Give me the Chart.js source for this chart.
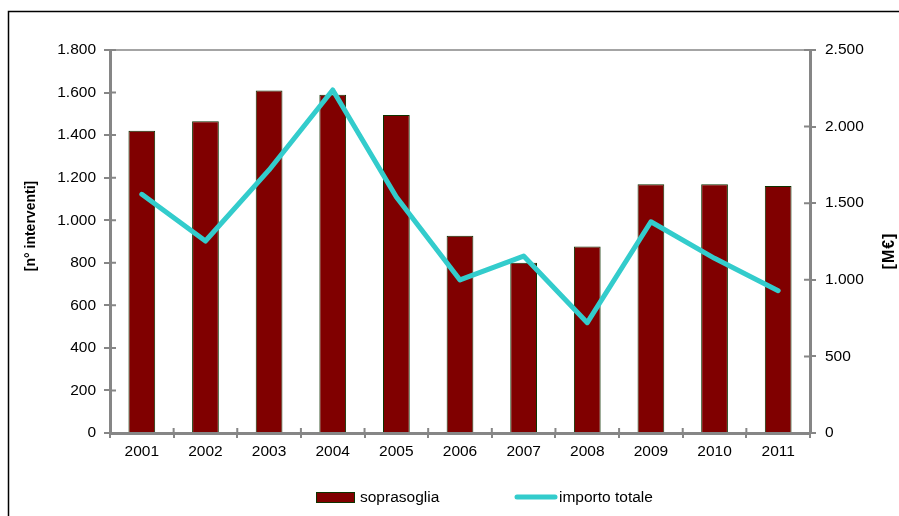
<!DOCTYPE html>
<html>
<head>
<meta charset="utf-8">
<script src="https://cdn.jsdelivr.net/npm/chart.js@4.4.0/dist/chart.umd.min.js"></script>
<style>
  html, body { margin: 0; padding: 0; background: #fff; overflow: hidden; }
  #myChart { display: block; }
</style>
</head>
<body>
<canvas id="myChart" width="899" height="516"></canvas>
<script>
// data
const years = ['2001','2002','2003','2004','2005','2006','2007','2008','2009','2010','2011']
const soprasoglia = [1420, 1465, 1610, 1590, 1495, 927, 800, 876, 1169, 1169, 1161]
const importoTotale = [1558, 1253, 1717, 2239, 1540, 999, 1155, 720, 1379, 1140, 929]
const leftTicks = [0, 200, 400, 600, 800, 1000, 1200, 1400, 1600, 1800]
const rightTicks = [0, 500, 1000, 1500, 2000, 2500]

const axisGray = '#868686'
const barRed = '#800000'
const barEdge = '#0d3300'
const lineCyan = '#33cccc'
const fontFam = '"Liberation Sans", Arial, sans-serif'

function fmt(v){
  return String(v).replace(/\B(?=(\d{3})+(?!\d))/g, '.')
}

// frame, top line, inner tick halves, axis titles, legend
const extras = {
  id: 'extras',
  beforeDraw(chart){
    const c = chart.ctx
    c.save()
    c.fillStyle = '#fff'
    c.fillRect(0, 0, chart.width, chart.height)
    c.strokeStyle = '#000'
    c.lineWidth = 1.5
    c.strokeRect(8.5, 11.5, 1000, 1000)
    c.restore()
  },
  afterDatasetsDraw(chart){
    const c = chart.ctx
    const a = chart.chartArea
    const s = chart.scales
    c.save()
    c.strokeStyle = axisGray
    c.lineWidth = 1.5
    c.beginPath()
    c.moveTo(a.left, a.top)
    c.lineTo(a.right, a.top)
    c.stroke()
    c.lineWidth = 2
    c.beginPath()
    leftTicks.forEach(v => {
      const y = s.y.getPixelForValue(v)
      c.moveTo(a.left, y); c.lineTo(a.left + 6, y)
    })
    rightTicks.forEach(v => {
      const y = s.y1.getPixelForValue(v)
      c.moveTo(a.right - 6, y); c.lineTo(a.right, y)
    })
    const step = (a.right - a.left) / years.length
    for (let i = 0; i <= years.length; i++) {
      const x = a.left + i * step
      c.moveTo(x, a.bottom - 5); c.lineTo(x, a.bottom)
    }
    c.stroke()

    // axis titles
    c.fillStyle = '#000'
    c.textAlign = 'center'
    c.textBaseline = 'middle'
    c.font = 'bold 14px ' + fontFam
    c.save()
    c.translate(31, 226)
    c.rotate(-Math.PI / 2)
    c.fillText('[n° interventi]', 0, 0)
    c.restore()
    c.save()
    c.translate(890, 251)
    c.rotate(-Math.PI / 2)
    c.font = 'bold 16px ' + fontFam
    c.letterSpacing = '1px'
    c.fillText('[M€]', 0, 0)
    c.restore()

    // legend
    c.fillStyle = barRed
    c.fillRect(316, 492, 39, 11)
    c.strokeStyle = barEdge
    c.lineWidth = 1
    c.strokeRect(316.5, 492.5, 38, 10)
    c.strokeStyle = lineCyan
    c.lineWidth = 5
    c.lineCap = 'round'
    c.beginPath()
    c.moveTo(517, 497); c.lineTo(555, 497)
    c.stroke()
    c.fillStyle = '#000'
    c.textAlign = 'left'
    c.font = '15.5px ' + fontFam
    c.fillText('soprasoglia', 360, 498)
    c.fillText('importo totale', 559, 498)
    c.restore()
  }
}

const ctx = document.getElementById('myChart')
let chart = new Chart(ctx, {
  data: {
    labels: years,
    datasets: [
      {
        type: 'line',
        label: 'importo totale',
        data: importoTotale,
        yAxisID: 'y1',
        borderColor: lineCyan,
        borderWidth: 5,
        tension: 0,
        pointRadius: 0,
        borderJoinStyle: 'round',
        borderCapStyle: 'round',
        fill: false,
        order: 0
      },
      {
        type: 'bar',
        label: 'soprasoglia',
        data: soprasoglia,
        yAxisID: 'y',
        backgroundColor: barRed,
        borderColor: barEdge,
        borderWidth: 1,
        barPercentage: 0.42,
        categoryPercentage: 1,
        order: 1
      }
    ]
  },
  options: {
    responsive: false,
    animation: false,
    events: [],
    layout: { padding: { top: 50, left: 0, right: 0, bottom: 0 } },
    plugins: { legend: { display: false }, title: { display: false }, tooltip: { enabled: false } },
    scales: {
      x: {
        offset: true,
        grid: { offset: true, drawOnChartArea: false, drawTicks: true, tickLength: 5, color: axisGray, lineWidth: 2 },
        border: { color: axisGray, width: 3 },
        ticks: { color: '#000', font: { family: fontFam, size: 15.5 }, padding: 4, maxRotation: 0 },
        afterFit(scale){ scale.height = 83 }
      },
      y: {
        position: 'left',
        min: 0, max: 1800,
        afterBuildTicks(scale){ scale.ticks = leftTicks.map(v => ({ value: v })) },
        grid: { drawOnChartArea: false, tickLength: 6, color: axisGray, lineWidth: 2 },
        border: { color: axisGray, width: 3 },
        ticks: { color: '#000', font: { family: fontFam, size: 15.5 }, padding: 8, callback: v => fmt(v) },
        afterFit(scale){ scale.width = 110 }
      },
      y1: {
        position: 'right',
        min: 0, max: 2500,
        afterBuildTicks(scale){ scale.ticks = rightTicks.map(v => ({ value: v })) },
        grid: { drawOnChartArea: false, tickLength: 6, color: axisGray, lineWidth: 2 },
        border: { color: axisGray, width: 3 },
        ticks: { color: '#000', font: { family: fontFam, size: 15.5 }, padding: 9, callback: v => fmt(v) },
        afterFit(scale){ scale.width = 89 }
      }
    }
  },
  plugins: [extras]
})
</script>
</body>
</html>
